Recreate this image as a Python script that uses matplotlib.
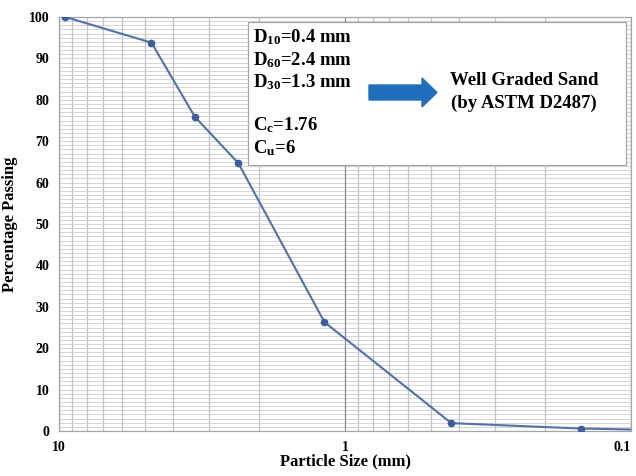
"""Grain size distribution curve for a sand sample (semi-log plot)."""
import matplotlib.pyplot as plt
import matplotlib.patches as mpatches
from matplotlib.ticker import FixedLocator, LogLocator, MultipleLocator, NullFormatter

# sieve opening (mm) and percentage passing
sieve_mm = [9.5, 4.75, 3.35, 2.36, 1.18, 0.425, 0.15, 0.075]
passing = [100, 93.8, 75.9, 64.7, 26.3, 1.9, 0.6, 0.2]

info_lines = [r"D$_{10}$=0.4 mm", r"D$_{60}$=2.4 mm", r"D$_{30}$=1.3 mm",
              r"C$_{c}$=1.76", r"C$_{u}$=6"]
result_lines = ["Well Graded Sand", "(by ASTM D2487)"]

W, H = 636, 476
SERIF = "Liberation Serif"

plt.rcParams["font.family"] = SERIF
plt.rcParams["font.weight"] = "bold"
plt.rcParams["mathtext.fontset"] = "custom"
plt.rcParams["mathtext.rm"] = "Liberation Serif:bold"
plt.rcParams["mathtext.it"] = "Liberation Serif:bold"
plt.rcParams["mathtext.bf"] = "Liberation Serif:bold"


def fx(px):
    return px / W


def fy(py):
    return 1 - py / H


fig = plt.figure(figsize=(W / 100, H / 100), dpi=100)
ax = fig.add_axes([fx(59), fy(431), fx(631) - fx(59), fy(17) - fy(431)])

ax.set_xscale("log")
ax.set_xlim(10, 0.1)
ax.set_ylim(0, 100)

ax.xaxis.set_major_locator(FixedLocator([10, 1, 0.1]))
ax.xaxis.set_major_formatter(plt.FuncFormatter(lambda v, p: f"{v:g}"))
ax.xaxis.set_minor_locator(LogLocator(base=10, subs=range(2, 10)))
ax.xaxis.set_minor_formatter(NullFormatter())
ax.yaxis.set_major_locator(MultipleLocator(10))
ax.yaxis.set_minor_locator(MultipleLocator(1))

ax.grid(True, which="both", axis="y", color="#d6d6d6", linewidth=0.8)
ax.grid(True, which="minor", axis="x", color="#c4c4c4", linewidth=0.9)
ax.grid(True, which="major", axis="x", color="#8c8c8c", linewidth=0.9)
ax.set_axisbelow(True)
# vertical grid drawn over the horizontal one
ax.yaxis.set_zorder(0.4)
ax.xaxis.set_zorder(0.6)

for side in ["left", "bottom", "top", "right"]:
    ax.spines[side].set_color("#a6a6a6")
    ax.spines[side].set_linewidth(0.9)

ax.tick_params(which="both", length=0, labelsize=10, pad=7)
for lab in ax.get_xticklabels() + ax.get_yticklabels():
    lab.set_fontweight("bold")
# keep the last x label inside the figure
ax.get_xticklabels()[-1].set_horizontalalignment("right")

ax.plot(sieve_mm, passing, color="#4f72a8", linewidth=1.5,
        marker="o", markersize=4.5, markerfacecolor="#3b5f9b",
        markeredgecolor="#3b5f9b", zorder=3)

ax.set_xlabel("Particle Size (mm)", fontsize=12, fontweight="bold", labelpad=0)
ax.set_ylabel("Percentage Passing", fontsize=12, fontweight="bold", labelpad=8)

# summary box
box = mpatches.Rectangle((fx(248), fy(165)), fx(626) - fx(248), fy(22) - fy(165),
                         transform=fig.transFigure, facecolor="white",
                         edgecolor="#a6a6a6", linewidth=0.9, zorder=5)
fig.patches.append(box)

for py, txt in zip([37, 60, 82, 125, 148], info_lines):
    fig.text(fx(253), fy(py), txt, fontsize=13.5, fontweight="bold",
             va="center", ha="left", zorder=6)

for py, txt in zip([80, 103], result_lines):
    fig.text(fx(524), fy(py), txt, fontsize=13.5, fontweight="bold",
             va="center", ha="center", zorder=6)

# block arrow pointing to the classification
arrow_px = [(369, 85), (422, 85), (422, 78), (437, 92.5),
            (422, 107), (422, 100), (369, 100)]
arrow = mpatches.Polygon([(fx(x), fy(y)) for x, y in arrow_px], closed=True,
                         transform=fig.transFigure, facecolor="#1f6fbd",
                         edgecolor="#1f6fbd", zorder=6)
fig.patches.append(arrow)

fig.savefig("out.png", dpi=100)
